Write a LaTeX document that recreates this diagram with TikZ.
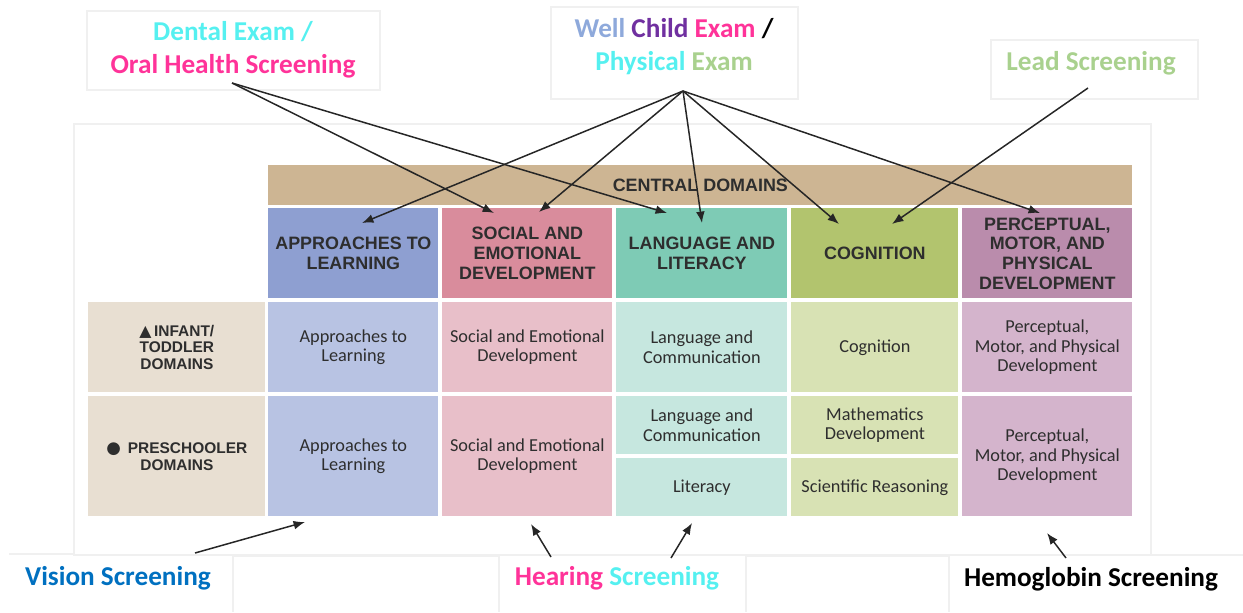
\documentclass[tikz,border=0pt]{standalone}
\usepackage{fontspec}
\setmainfont{Carlito}
\newfontfamily\arialfont{Liberation Sans}
\newfontfamily\symfont{DejaVu Sans}
\usetikzlibrary{arrows.meta}

\definecolor{inkgray}{HTML}{2E2E2E}
\definecolor{tanbar}{HTML}{CDB593}
\definecolor{tanlight}{HTML}{E8DFD2}
\definecolor{bluehead}{HTML}{8E9FD1}
\definecolor{bluelight}{HTML}{B8C3E3}
\definecolor{pinkhead}{HTML}{D98C9C}
\definecolor{pinklight}{HTML}{E8BFC9}
\definecolor{tealhead}{HTML}{7ECBB5}
\definecolor{teallight}{HTML}{C6E7DF}
\definecolor{greenhead}{HTML}{B2C46E}
\definecolor{greenlight}{HTML}{D8E2B4}
\definecolor{purphead}{HTML}{BA8CAC}
\definecolor{purplight}{HTML}{D4B4CC}
\definecolor{txtcyan}{HTML}{55F0F0}
\definecolor{txtpink}{HTML}{FF3399}
\definecolor{txtsky}{HTML}{8EA9DB}
\definecolor{txtpurple}{HTML}{7030A0}
\definecolor{txtgreen}{HTML}{A9D18E}
\definecolor{txtblue}{HTML}{0070C0}

\tikzset{
	>={Latex[length=6.5pt,width=5pt]},
	cell/.style n args={2}{rectangle, anchor=north west, inner sep=0pt,
			minimum width=#1*0.02cm, minimum height=#2*0.02cm, align=center},
	head/.style={font=\arialfont\bfseries\fontsize{10.2}{11.2}\selectfont, text=inkgray},
	body/.style={font=\fontsize{10.4}{11}\selectfont, text=inkgray},
	rowlab/.style={font=\arialfont\bfseries\fontsize{8.8}{9.6}\selectfont, text=inkgray},
	callout/.style={font=\bfseries\fontsize{15.5}{18.7}\selectfont, align=center},
	frame/.style={draw=gray!12, line width=0.6pt},
	link/.style={->, line width=0.85pt, black!85}
}

\begin{document}
\begin{tikzpicture}[x=0.02cm, y=-0.02cm]
	\useasboundingbox (0,0) rectangle (1243,612);

	% faint frames of the pasted boxes
	\draw[frame] (74,124) rectangle (1151,555);
	\draw[frame] (87,11) rectangle (380,90);
	\draw[frame] (551,7) rectangle (798,99);
	\draw[frame] (991,40) rectangle (1198,99);
	\draw[frame] (9,554) -- (74,554);
	\draw[frame] (233,612) -- (233,556) -- (499,556) -- (499,612);
	\draw[frame] (746,612) -- (746,556) -- (949,556) -- (949,612);
	\draw[frame] (1151,555) -- (1243,555);

	% central domains
	\node[cell={864}{40}, fill=tanbar, head] (bar) at (268,165) {CENTRAL DOMAINS};

	\node[cell={170}{90}, fill=bluehead, head] (hApp) at (268,208) {APPROACHES TO\\LEARNING};
	\node[cell={170}{90}, fill=pinkhead, head] (hSoc) at (442,208) {SOCIAL AND\\EMOTIONAL\\DEVELOPMENT};
	\node[cell={171}{90}, fill=tealhead, head] (hLang) at (616,208) {LANGUAGE AND\\LITERACY};
	\node[cell={167}{90}, fill=greenhead, head] (hCog) at (791,208) {COGNITION};
	\node[cell={170}{90}, fill=purphead, head] (hPer) at (962,208) {PERCEPTUAL,\\MOTOR, AND\\PHYSICAL\\DEVELOPMENT};

	% infant / toddler row
	\node[cell={177}{90}, fill=tanlight, rowlab] (lInf) at (88,302) {{\symfont\fontsize{9}{9.6}\selectfont ▲}\,INFANT/\\TODDLER\\DOMAINS};
	\node[cell={170}{90}, fill=bluelight, body] (iApp) at (268,302) {Approaches to\\Learning};
	\node[cell={170}{90}, fill=pinklight, body] (iSoc) at (442,302) {Social and Emotional\\Development};
	\node[cell={171}{90}, fill=teallight, body] (iLang) at (616,302) {Language and\\Communication};
	\node[cell={167}{90}, fill=greenlight, body] (iCog) at (791,302) {Cognition};
	\node[cell={170}{90}, fill=purplight, body] (iPer) at (962,302) {Perceptual,\\Motor, and Physical\\Development};

	% preschooler row
	\node[cell={177}{120}, fill=tanlight, rowlab] (lPre) at (88,396) {{\symfont\fontsize{9.5}{9.6}\selectfont ●}\ \,PRESCHOOLER\\DOMAINS};
	\node[cell={170}{120}, fill=bluelight, body] (pApp) at (268,396) {Approaches to\\Learning};
	\node[cell={170}{120}, fill=pinklight, body] (pSoc) at (442,396) {Social and Emotional\\Development};
	\node[cell={171}{58}, fill=teallight, body] (pLang) at (616,396) {Language and\\Communication};
	\node[cell={171}{58}, fill=teallight, body] (pLit) at (616,458) {Literacy};
	\node[cell={167}{58}, fill=greenlight, body] (pMath) at (791,396) {Mathematics\\Development};
	\node[cell={167}{58}, fill=greenlight, body] (pSci) at (791,458) {Scientific Reasoning};
	\node[cell={170}{120}, fill=purplight, body] (pPer) at (962,396) {Perceptual,\\Motor, and Physical\\Development};

	% screenings
	\node[callout] (dental) at (233,50) {\textcolor{txtcyan}{Dental Exam /}\\\textcolor{txtpink}{Oral Health Screening}};
	\node[callout] (well) at (674,47) {\textcolor{txtsky}{Well} \textcolor{txtpurple}{Child} \textcolor{txtpink}{Exam} /\\\textcolor{txtcyan}{Physical} \textcolor{txtgreen}{Exam}};
	\node[callout, text=txtgreen] (lead) at (1091,63) {Lead Screening};
	\node[callout, text=txtblue] (vision) at (118,578) {Vision Screening};
	\node[callout] (hearing) at (617,578) {\textcolor{txtpink}{Hearing} \textcolor{txtcyan}{Screening}};
	\node[callout, text=black] (hemo) at (1091,579) {Hemoglobin Screening};

	% arrow ends
	\coordinate (dsrc) at (232,83);
	\coordinate (wsrc) at (683,91);
	\coordinate (lsrc) at (1088,88);
	\coordinate (vsrc) at (195,553);
	\coordinate (hsrc) at (551,557);
	\coordinate (ssrc) at (671,558);
	\coordinate (gsrc) at (1066,558);

	\coordinate (tSocD) at (494,213);
	\coordinate (tLangD) at (667,213);
	\coordinate (tAppW) at (362,223);
	\coordinate (tSocW) at (539,212);
	\coordinate (tLangW) at (702,223);
	\coordinate (tCogW) at (839,224);
	\coordinate (tPerW) at (1040,213);
	\coordinate (tCogL) at (892,224);
	\coordinate (tApp) at (305,522);
	\coordinate (tSoc) at (531,524);
	\coordinate (tLang) at (692,523);
	\coordinate (tPer) at (1047,533);

	\draw[link] (dsrc) -- (tSocD);
	\draw[link] (dsrc) -- (tLangD);
	\draw[link] (wsrc) -- (tAppW);
	\draw[link] (wsrc) -- (tSocW);
	\draw[link] (wsrc) -- (tLangW);
	\draw[link] (wsrc) -- (tCogW);
	\draw[link] (wsrc) -- (tPerW);
	\draw[link] (lsrc) -- (tCogL);
	\draw[link] (vsrc) -- (tApp);
	\draw[link] (hsrc) -- (tSoc);
	\draw[link] (ssrc) -- (tLang);
	\draw[link] (gsrc) -- (tPer);
\end{tikzpicture}
\end{document}
